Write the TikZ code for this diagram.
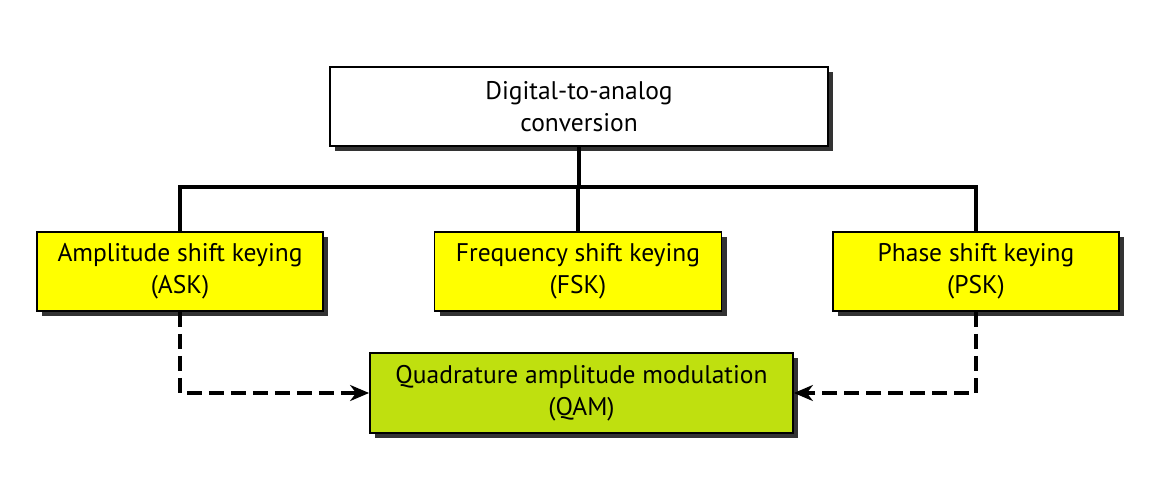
\documentclass[tikz,border=0pt]{standalone}
\usepackage{fontspec}
\setmainfont{PT Sans}
\usepackage{tikz}
\usetikzlibrary{arrows.meta,shadows}
\definecolor{keyyellow}{HTML}{FFFF00}
\definecolor{qamgreen}{HTML}{BFE00F}
\tikzset{box node/.style={rectangle,draw,line width=1.8pt,align=center,
		font=\fontsize{25.5}{32}\selectfont,inner sep=0pt,
		drop shadow={shadow xshift=5pt,shadow yshift=-5pt,fill=black!80,opacity=1}},
}

\begin{document}
\begin{tikzpicture}[x=1pt,y=1pt,>={Stealth[length=19pt,width=16pt,inset=6pt]},line width=3.2pt]
	\useasboundingbox (0,0) rectangle (1168,-491);
	
	\node[box node,fill=white,minimum width=498pt,minimum height=79pt] (dac) at (579,-106.5) {Digital-to-analog\\conversion};
	\node[box node,fill=keyyellow,minimum width=286pt,minimum height=79pt] (ask) at (180,-271.5) {Amplitude shift keying\\(ASK)};
	\node[box node,fill=keyyellow,minimum width=287pt,minimum height=79pt] (fsk) at (578,-271.5) {Frequency shift keying\\(FSK)};
	\node[box node,fill=keyyellow,minimum width=286pt,minimum height=79pt] (psk) at (976,-271.5) {Phase shift keying\\(PSK)};
	\node[box node,fill=qamgreen,minimum width=423pt,minimum height=80pt] (qam) at (581.5,-393) {Quadrature amplitude modulation\\(QAM)};
	
	\coordinate (bus) at (dac.south |- 0,-187);
	
	\draw (dac.south) -- (bus);
	\draw (ask.north) |- (bus) -| (psk.north);
	\draw (fsk.north) -- (fsk.north |- bus);
	
	\path[->,dash pattern=on 15pt off 7pt]
	(ask.south) edge [to path={|- (\tikztotarget)}] (qam.west)
	(psk.south) edge [to path={|- (\tikztotarget)}] (qam.east)
	;
\end{tikzpicture}
\end{document}
